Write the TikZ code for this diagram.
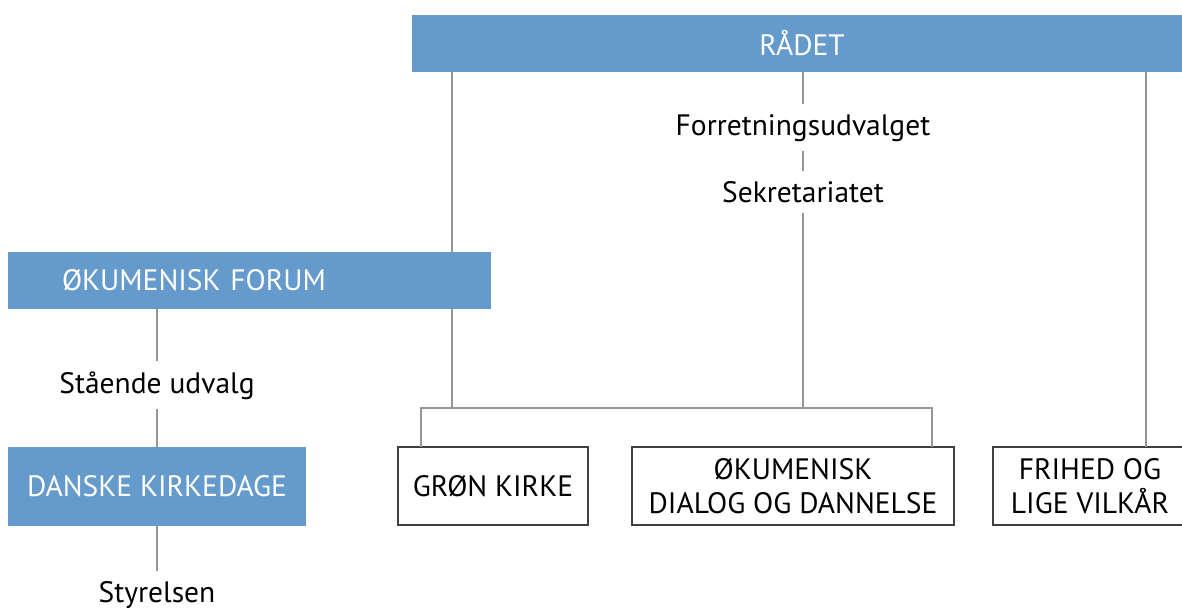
\documentclass[tikz,border=0pt]{standalone}
\usepackage{fontspec}
\setmainfont{PT Sans}
\usetikzlibrary{positioning,calc}
\definecolor{raadblue}{RGB}{101,154,204}
\definecolor{wiregray}{RGB}{150,150,150}
\tikzset{
	org chart/.style={x=1pt, y=-1pt, font=\fontsize{29.5}{34}\selectfont},
	blue box/.style={fill=raadblue, text=white, inner sep=0pt, outer sep=0pt, anchor=north west},
	white box/.style={draw=black!75, line width=1.5pt, fill=white, align=center,
		inner sep=0pt, outer sep=0pt, minimum height=78pt},
	wire/.style={draw=wiregray, line width=2pt},
	tag/.style={inner sep=10pt, anchor=base}
}

\begin{document}
\begin{tikzpicture}[org chart]
	\useasboundingbox (0,0) rectangle (1182,610);
	\node[blue box, minimum width=780, minimum height=57] (raad) at (412,15) {RÅDET};
	\node[blue box, minimum width=483, minimum height=57, text width=375, inner xsep=54, align=left] (forum) at (8,252) {ØKUMENISK FORUM};
	\node[blue box, minimum width=298, minimum height=79] (kirkedage) at (8,447) {DANSKE KIRKEDAGE};
	\node[white box, minimum width=190, anchor=north west] (gron) at (398,447) {GRØN KIRKE};
	\node[white box, minimum width=322, right=44 of gron] (dialog) {ØKUMENISK\\DIALOG OG DANNELSE};
	\node[white box, minimum width=194, right=39 of dialog] (frihed) {FRIHED OG\\LIGE VILKÅR};
	\node[tag] (fu) at (803,135) {Forretningsudvalget};
	\node[tag] (sekr) at (803,202) {Sekretariatet};
	\node[tag] (staaende) at (157,393) {Stående udvalg};
	\node[tag] (styr) at (157,602) {Styrelsen};
	\coordinate (brL) at (421,408);
	\coordinate (brR) at (932,408);
	\coordinate (leg) at (452,408);
	\coordinate (rleg) at (1146,447);
	% council lines
	\draw[wire] (raad.south -| fu) -- (fu);
	\draw[wire] (fu) -- (sekr);
	\draw[wire] (sekr) -- (sekr |- brL);
	\draw[wire] (raad.south -| leg) -- (forum.north -| leg);
	\draw[wire] (forum.south -| leg) -- (leg);
	\draw[wire] (gron.north -| brL) -- (brL) -- (brR) -- (dialog.north -| brR);
	\draw[wire] (raad.south -| rleg) -- (rleg);
	% forum column
	\draw[wire] (forum.south -| kirkedage) -- (staaende);
	\draw[wire] (staaende) -- (kirkedage);
	\draw[wire] (kirkedage) -- (styr);
\end{tikzpicture}
\end{document}
